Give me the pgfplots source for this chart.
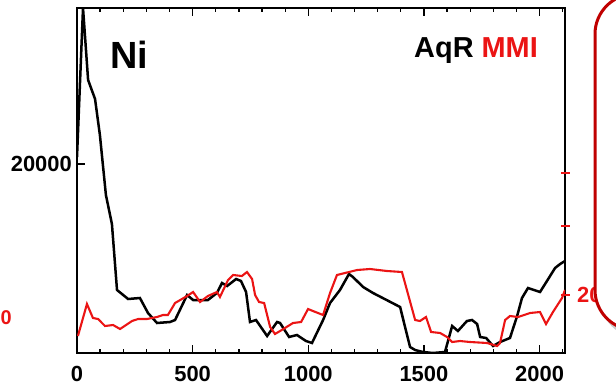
\documentclass[border=0pt]{standalone}
\usepackage{pgfplots}
\pgfplotsset{compat=1.18}
\usepackage{fontspec}
\setmainfont{Liberation Sans}
\definecolor{mred}{RGB}{235,20,20}
\definecolor{boxred}{RGB}{192,0,0}
\begin{document}
\begin{tikzpicture}[x=1bp,y=1bp]
\useasboundingbox (0,0) rectangle (616,388);
\begin{axis}[at={(77bp,35bp)}, anchor=south west, scale only axis,
  width=488bp, height=345bp,
  xmin=0, xmax=2110, ymin=0, ymax=36500,
  xtick={0,500,1000,1500,2000}, minor xtick={100,200,...,2100},
  ytick={20000}, xtick pos=both, ytick pos=left, tick align=inside,
  scaled y ticks=false, scaled x ticks=false,
  major tick length=8bp, minor tick length=4bp,
  axis line style={line width=1.6bp},
  every tick/.style={line width=1.3bp, black},
  tick label style={font=\fontsize{22}{22}\selectfont\bfseries},
  /pgf/number format/assume math mode=true,
  /pgf/number format/1000 sep={},
  xticklabel style={yshift=-10bp},
  yticklabel style={inner sep=0pt, xshift=-5bp},
]
\addplot[black, line width=2.5bp] coordinates {
(0,20737) (26,36500) (48,28883) (78,26873) (99,23064) (125,16716) (151,13648)
(173,6665) (221,5713) (272,5819) (307,4232) (346,3174) (402,3280) (424,3491)
(476,6136) (502,5607) (566,5607) (605,6348) (627,7406) (649,7089) (688,7829)
(709,7618) (731,6454) (748,3280) (774,3491) (822,1799) (865,3280) (878,3174)
(917,1693) (951,1904) (990,1270) (1016,1058) (1064,3491) (1094,5290) (1137,6665)
(1176,8358) (1193,8041) (1237,6983) (1280,6348) (1397,4867) (1440,635) (1462,317)
(1496,106) (1539,0) (1591,106) (1622,2857) (1647,2328) (1686,3386) (1708,3491)
(1730,3068) (1743,1693) (1769,1587) (1799,741) (1829,1164) (1872,1587) (1903,3915)
(1924,5819) (1950,6877) (2002,6454) (2032,7618) (2067,8993) (2089,9416) (2110,9734)
};
\end{axis}
\begin{axis}[at={(77bp,35bp)}, anchor=south west, scale only axis,
  width=488bp, height=345bp,
  xmin=0, xmax=2110, ymin=0, ymax=345,
  hide x axis, axis y line*=right, axis line style={draw=none},
  ytick={58,127,180}, yticklabels={}, tick align=center,
  major tick length=9bp,
  every tick/.style={line width=1.5bp, mred},
]
\addplot[mred, line width=2.1bp] coordinates {
(4,17) (43,49) (69,35) (91,34) (121,27) (156,28) (186,24) (238,32) (264,34)
(303,34) (346,36) (372,38) (393,38) (424,50) (476,57) (502,61) (532,51) (566,57)
(605,61) (618,56) (653,73) (675,78) (713,77) (735,81) (757,74) (770,58) (787,51)
(809,50) (835,26) (856,19) (878,22) (934,30) (969,31) (999,44) (1020,42) (1064,38)
(1094,60) (1124,78) (1159,80) (1211,83) (1267,84) (1340,82) (1405,81) (1462,33)
(1483,32) (1509,36) (1531,21) (1570,20) (1600,16) (1622,11) (1656,12) (1699,11)
(1773,10) (1816,7) (1829,10) (1851,33) (1872,37) (1907,36) (1959,40) (2002,41)
(2028,29) (2058,41) (2097,55) (2110,63)
};
\end{axis}
\node[anchor=base west, inner sep=0pt, font=\fontsize{38}{38}\selectfont\bfseries] at (110,320) {Ni};
\node[anchor=base east, inner sep=0pt, font=\fontsize{29}{29}\selectfont\bfseries] at (538,331) {AqR \textcolor{mred}{MMI}};
\node[anchor=west, inner sep=0pt, text=mred, font=\fontsize{22}{22}\selectfont\bfseries] at (577,93) {20};
\node[anchor=west, inner sep=0pt, text=mred, font=\fontsize{20}{20}\selectfont\bfseries] at (0.5,70) {0};
\fill[black!20, rounded corners=40bp] (600,50) rectangle (720,390);
\draw[boxred, line width=3bp, fill=white, rounded corners=40bp] (595,58) rectangle (720,394);
\end{tikzpicture}
\end{document}
